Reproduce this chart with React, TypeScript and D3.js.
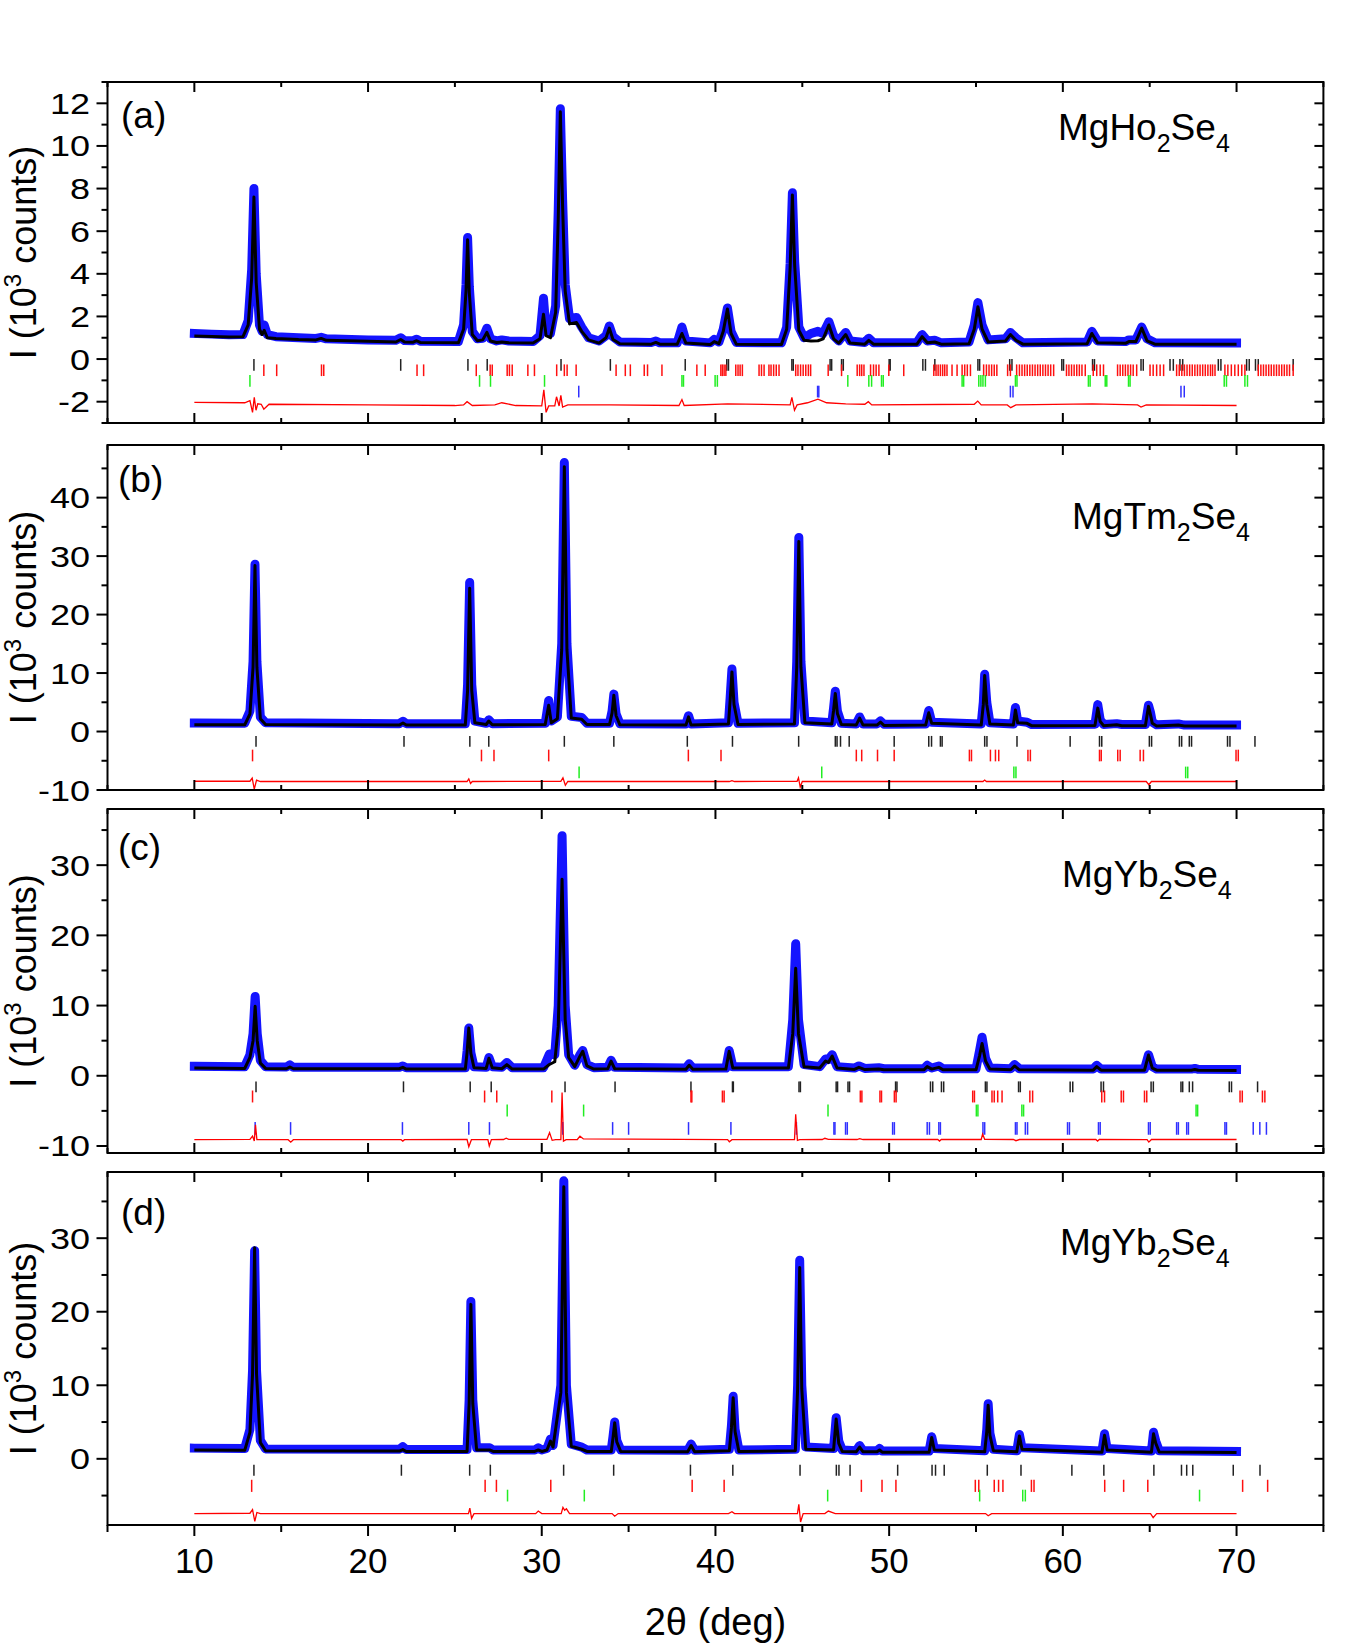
import React from "react";
import * as d3 from "d3";

const FONT = "'Liberation Sans', Arial, Helvetica, sans-serif";
const W = 1350;
const H = 1650;

// 2θ axis
const X_DOMAIN: [number, number] = [5, 75];
const X_TICK_LABELS = [10, 20, 30, 40, 50, 60, 70];

type Row = [number, number, number]; // [2θ, I_obs, I_calc] (10^3 counts)
type DRow = [number, number]; // [2θ, I_obs - I_calc + offset]

// ---------------- Panel (a) MgHo2Se4 ----------------
const patternA: Row[] = [
  [10.0, 1.2, 1.08], [11.0, 1.17, 1.06], [12.0, 1.14, 1.04], [12.8, 1.15, 1.05],
  [13.1, 1.8, 1.6], [13.3, 4.2, 3.8], [13.43, 8.0, 7.6], [13.56, 4.0, 3.6],
  [13.75, 1.6, 1.4], [13.9, 1.3, 1.15], [14.02, 1.6, 1.35], [14.2, 1.15, 1.0],
  [14.7, 1.05, 0.97], [16.0, 1.0, 0.92], [17.0, 0.97, 0.9], [17.3, 1.02, 0.97],
  [17.6, 0.95, 0.88], [20.0, 0.9, 0.84], [21.6, 0.88, 0.8], [21.88, 1.0, 0.92],
  [22.1, 0.87, 0.8], [22.6, 0.86, 0.79], [22.8, 0.93, 0.86], [23.0, 0.84, 0.78],
  [25.2, 0.82, 0.76], [25.5, 1.6, 1.4], [25.64, 3.5, 3.2], [25.73, 5.7, 5.6],
  [25.83, 3.4, 3.1], [26.0, 1.3, 1.15], [26.3, 0.95, 0.86], [26.6, 0.98, 0.9],
  [26.84, 1.45, 1.25], [27.05, 0.95, 0.85], [27.4, 0.85, 0.78], [27.7, 0.9, 0.8],
  [28.1, 0.85, 0.77], [29.5, 0.82, 0.75], [29.9, 1.1, 0.95], [30.1, 2.85, 2.1],
  [30.25, 1.3, 1.1], [30.5, 1.2, 1.0], [30.8, 2.5, 2.2], [30.95, 7.0, 6.6],
  [31.07, 11.75, 11.6], [31.2, 7.5, 7.2], [31.35, 3.5, 3.2], [31.6, 1.9, 1.65],
  [32.0, 1.95, 1.72], [32.3, 1.5, 1.3], [32.7, 1.0, 0.9], [33.3, 0.85, 0.75],
  [33.7, 1.1, 1.0], [33.89, 1.55, 1.45], [34.1, 1.05, 0.92], [34.5, 0.8, 0.72],
  [36.3, 0.78, 0.7], [36.57, 0.85, 0.78], [36.8, 0.76, 0.7], [37.8, 0.76, 0.7],
  [38.07, 1.5, 1.2], [38.3, 0.85, 0.75], [39.7, 0.76, 0.68], [39.93, 0.92, 0.82],
  [40.2, 0.8, 0.72], [40.45, 1.4, 1.3], [40.69, 2.4, 2.35], [40.9, 1.3, 1.2],
  [41.2, 0.78, 0.7], [43.8, 0.76, 0.68], [44.1, 1.5, 1.4], [44.3, 4.5, 4.3],
  [44.43, 7.8, 7.7], [44.56, 4.6, 4.4], [44.8, 1.5, 1.35], [45.1, 1.0, 0.88],
  [45.5, 1.2, 0.85], [45.9, 1.3, 0.86], [46.2, 1.2, 0.95], [46.53, 1.75, 1.6],
  [46.8, 1.1, 0.95], [47.1, 0.85, 0.75], [47.5, 1.25, 1.15], [47.75, 0.85, 0.75],
  [48.6, 0.78, 0.7], [48.83, 0.98, 0.88], [49.1, 0.77, 0.7], [51.6, 0.78, 0.7],
  [51.9, 1.15, 1.05], [52.2, 0.85, 0.77], [52.62, 0.88, 0.8], [53.0, 0.76, 0.7],
  [54.6, 0.8, 0.72], [54.9, 1.6, 1.4], [55.11, 2.65, 2.45], [55.35, 1.6, 1.4],
  [55.7, 0.9, 0.8], [56.7, 0.95, 0.85], [56.98, 1.25, 1.15], [57.3, 1.0, 0.88],
  [57.7, 0.76, 0.7], [61.4, 0.8, 0.72], [61.67, 1.3, 1.2], [62.0, 0.85, 0.76],
  [63.6, 0.82, 0.74], [63.8, 0.9, 0.82], [64.2, 0.9, 0.82], [64.54, 1.5, 1.45],
  [64.85, 0.95, 0.85], [65.3, 0.76, 0.7], [70.0, 0.75, 0.7],
];
const diffA: DRow[] = [
  [10.0, -2.03], [12.9, -2.05], [13.2, -1.95], [13.35, -2.5], [13.45, -1.8], [13.55, -2.4],
  [13.65, -2.1], [13.85, -2.12], [14.0, -2.35], [14.3, -2.12], [20, -2.15], [25, -2.18],
  [25.5, -2.15], [25.7, -2.0], [26.0, -2.18], [27.3, -2.15], [27.7, -2.05], [28.5, -2.18],
  [30.0, -2.2], [30.12, -1.44], [30.25, -2.5], [30.4, -2.2], [30.75, -2.2], [30.85, -1.77],
  [31.0, -2.2], [31.1, -1.7], [31.2, -2.25], [31.5, -2.15], [33.9, -2.15], [37.9, -2.18],
  [38.07, -1.9], [38.2, -2.18], [40.7, -2.1], [44.3, -2.15], [44.4, -1.8], [44.55, -2.4],
  [44.7, -2.15], [45.3, -2.05], [45.9, -1.88], [46.4, -2.05], [47.5, -2.1], [48.6, -2.12],
  [48.8, -2.0], [49.0, -2.15], [54.9, -2.12], [55.1, -1.97], [55.3, -2.15], [56.8, -2.15],
  [57.0, -2.28], [57.3, -2.15], [61.7, -2.1], [64.3, -2.15], [64.5, -2.25], [64.8, -2.15],
  [70.0, -2.18],
];
const braggA_main = [13.43, 21.88, 25.75, 26.86, 31.11, 33.95, 38.26, 40.65, 40.75, 44.4, 44.48,
  46.6, 46.69, 47.26, 47.36, 50.0, 50.06, 51.94, 52.09, 52.63, 55.11, 55.21, 56.94, 57.07,
  59.94, 60.04, 61.71, 61.82, 64.5, 64.63, 66.17, 66.36, 66.74, 66.9, 68.95, 69.1, 70.58,
  70.73, 71.09, 71.25, 73.26];
const braggA_red = [14.0, 14.74, 17.32, 17.45, 22.82, 23.2, 26.23, 27.03, 27.15, 28.01, 28.14,
  28.3, 29.2, 29.58, 30.86, 31.3, 31.46, 31.98, 34.28, 34.81, 35.1, 35.9, 36.09, 36.92, 38.93,
  39.41, 40.31, 40.4, 40.5, 40.6, 41.17, 41.3, 41.42, 41.55, 42.51, 42.65, 42.8, 43.08, 43.2,
  43.35, 43.5, 43.66, 44.62, 44.75, 44.9, 45.05, 45.2, 45.35, 45.48, 46.49, 47.26, 48.16, 48.3,
  48.42, 48.55, 48.93, 49.1, 49.25, 49.41, 49.98, 50.84, 52.57, 52.7, 52.82, 52.95, 53.08, 53.2,
  53.33, 53.62, 53.91, 54.2, 54.35, 54.5, 54.68, 55.44, 55.6, 55.75, 55.9, 56.05, 56.2, 56.82,
  56.98, 57.34, 57.5, 57.65, 57.8, 57.95, 58.1, 58.25, 58.4, 58.55, 58.7, 58.85, 59.0, 59.15,
  59.3, 59.47, 60.21, 60.35, 60.5, 60.65, 60.8, 60.95, 61.1, 61.29, 61.75, 61.95, 62.15, 62.34,
  63.15, 63.3, 63.45, 63.6, 63.75, 63.9, 64.05, 64.25, 65.02, 65.2, 65.4, 65.6, 65.8, 66.55,
  66.7, 66.85, 67.0, 67.15, 67.3, 67.45, 67.6, 67.75, 67.9, 68.05, 68.2, 68.35, 68.5, 68.62,
  68.76, 69.33, 69.5, 69.7, 69.9, 70.1, 70.3, 70.48, 71.25, 71.4, 71.55, 71.7, 71.85, 72.0,
  72.15, 72.3, 72.45, 72.6, 72.75, 72.9, 73.05, 73.26];
const braggA_green = [13.2, 26.42, 27.05, 30.16, 38.07, 38.16, 39.98, 40.11, 47.62, 48.83, 48.99,
  49.56, 49.66, 54.2, 54.29, 55.16, 55.28, 55.4, 55.54, 57.27, 57.36, 61.47, 61.57, 62.44,
  62.53, 63.78, 63.87, 69.29, 69.42, 70.48, 70.63];
const braggA_blue = [32.13, 45.88, 45.95, 56.98, 57.13, 66.8, 66.99];

// ---------------- Panel (b) MgTm2Se4 ----------------
const patternB: Row[] = [
  [10.0, 1.45, 1.15], [12.9, 1.4, 1.15], [13.2, 3.5, 3.0], [13.38, 12, 11], [13.49, 28.6, 28.4],
  [13.6, 12, 11], [13.8, 2.5, 2.2], [14.1, 1.5, 1.2], [21.8, 1.35, 1.1], [22.01, 1.75, 1.45],
  [22.2, 1.35, 1.1], [25.6, 1.35, 1.1], [25.73, 8, 7], [25.85, 25.5, 24.5], [25.97, 8, 7],
  [26.15, 1.8, 1.5], [26.8, 1.4, 1.2], [26.95, 2.0, 1.8], [27.15, 1.35, 1.15], [30.2, 1.4, 1.2],
  [30.4, 5.3, 4.5], [30.55, 1.8, 1.5], [30.9, 2.5, 2.2], [31.15, 15, 14], [31.3, 46.0, 45.3],
  [31.45, 15, 14], [31.7, 2.6, 2.3], [32.3, 2.4, 2.1], [32.6, 1.4, 1.2], [33.9, 1.4, 1.2],
  [34.05, 3.5, 3.2], [34.15, 6.4, 6.2], [34.28, 3, 2.7], [34.5, 1.35, 1.15], [38.3, 1.3, 1.1],
  [38.45, 2.7, 2.5], [38.6, 1.3, 1.1], [40.75, 1.5, 1.3], [40.85, 6, 5.5], [40.95, 10.7, 10.2],
  [41.07, 5, 4.6], [41.3, 1.4, 1.2], [44.55, 1.5, 1.3], [44.68, 12, 11], [44.8, 33.2, 32.5],
  [44.92, 12, 11], [45.15, 1.8, 1.5], [46.7, 1.5, 1.3], [46.8, 4, 3.6], [46.9, 6.9, 6.5],
  [47.02, 3.5, 3.1], [47.25, 1.4, 1.2], [48.1, 1.3, 1.1], [48.3, 2.5, 2.3], [48.5, 1.3, 1.1],
  [49.3, 1.3, 1.1], [49.5, 1.8, 1.6], [49.7, 1.25, 1.05], [52.1, 1.3, 1.1], [52.28, 3.6, 3.2],
  [52.45, 1.6, 1.4], [55.3, 1.3, 1.1], [55.42, 5, 4.6], [55.5, 9.8, 9.6], [55.62, 5, 4.6],
  [55.8, 1.5, 1.3], [57.15, 1.3, 1.1], [57.27, 4.1, 3.7], [57.4, 1.8, 1.5], [57.94, 1.6, 1.4],
  [58.2, 1.2, 1.0], [61.85, 1.25, 1.05], [62.01, 4.6, 4.0], [62.15, 2.0, 1.7], [62.35, 1.2, 1.0],
  [63.1, 1.35, 1.15], [63.4, 1.2, 1.0], [64.75, 1.2, 1.0], [64.93, 4.5, 4.3], [65.05, 3.2, 2.8],
  [65.15, 1.6, 1.4], [65.4, 1.15, 0.95], [66.65, 1.3, 1.1], [67.0, 1.1, 0.95], [70.0, 1.1, 0.95],
];
const diffB: DRow[] = [
  [10, -8.5], [13.2, -8.5], [13.33, -7.95], [13.45, -9.85], [13.58, -8.3], [13.8, -8.55],
  [25.7, -8.55], [25.8, -8.1], [25.9, -8.9], [26.0, -8.55], [31.1, -8.5], [31.22, -7.9],
  [31.36, -9.2], [31.5, -8.55], [40.8, -8.55], [40.95, -8.4], [41.1, -8.55], [44.7, -8.5],
  [44.78, -7.9], [44.88, -9.5], [45.0, -8.55], [55.4, -8.55], [55.5, -8.3], [55.6, -8.55],
  [64.8, -8.55], [64.95, -9.1], [65.1, -8.55], [70, -8.55],
];
const braggB_main = [13.55, 22.07, 25.86, 26.95, 31.3, 34.15, 38.38, 40.98, 44.79, 46.9, 47.0,
  47.2, 47.7, 50.29, 52.28, 52.44, 52.95, 53.05, 55.5, 55.63, 57.36, 60.42, 62.11, 62.24, 64.98,
  65.11, 66.71, 66.84, 67.28, 67.41, 69.48, 69.62, 71.06];
const braggB_red = [13.35, 26.53, 27.25, 30.4, 38.44, 40.32, 48.11, 48.42, 49.33, 50.29, 54.62,
  54.74, 55.83, 56.12, 56.31, 57.99, 58.13, 62.11, 62.21, 63.16, 63.3, 64.45, 64.64, 69.97, 70.1];
const braggB_green = [32.15, 46.12, 57.18, 57.3, 67.07, 67.19];

// ---------------- Panel (c) MgYb2Se4 ----------------
const patternC: Row[] = [
  [10, 1.35, 1.1], [12.9, 1.3, 1.05], [13.2, 3, 2.6], [13.38, 6, 5], [13.5, 11.3, 9.9],
  [13.62, 6, 5], [13.8, 2.2, 1.8], [14.1, 1.3, 1.05], [15.3, 1.25, 1.0], [15.5, 1.55, 1.25],
  [15.7, 1.2, 1.0], [21.8, 1.2, 1.0], [22.0, 1.4, 1.2], [22.2, 1.15, 0.95], [25.6, 1.15, 0.95],
  [25.7, 3.5, 3.3], [25.8, 6.8, 6.8], [25.92, 3.3, 3.2], [26.1, 1.3, 1.15], [26.8, 1.2, 1.05],
  [26.96, 2.6, 2.5], [27.15, 1.3, 1.15], [27.7, 1.2, 1.0], [27.99, 1.9, 1.6], [28.3, 1.15, 0.95],
  [30.1, 1.15, 0.95], [30.44, 3.1, 1.6], [30.75, 3.0, 2.0], [30.95, 10, 7], [31.17, 34.2, 28.0],
  [31.35, 10, 8], [31.55, 3, 2.6], [31.9, 1.5, 1.3], [32.2, 3.0, 2.8], [32.36, 3.6, 3.5],
  [32.6, 1.6, 1.4], [33.0, 1.15, 0.95], [33.8, 1.2, 1.0], [33.99, 2.2, 2.1], [34.2, 1.2, 1.0],
  [38.3, 1.1, 0.92], [38.49, 1.7, 1.5], [38.7, 1.1, 0.92], [40.6, 1.1, 0.95], [40.79, 3.6, 3.5],
  [41.0, 1.3, 1.1], [44.2, 1.3, 1.1], [44.45, 8, 6], [44.62, 18.8, 15.3], [44.78, 8, 6],
  [45.1, 1.6, 1.3], [46.0, 1.3, 1.1], [46.34, 2.4, 2.1], [46.5, 2.3, 1.9], [46.72, 3.0, 2.8],
  [47.0, 1.3, 1.1], [48.0, 1.1, 0.9], [48.26, 1.4, 1.2], [48.6, 1.05, 0.88], [49.4, 1.15, 0.95],
  [49.7, 1.0, 0.85], [52.0, 1.0, 0.85], [52.19, 1.5, 1.3], [52.45, 1.1, 0.95], [52.86, 1.4, 1.2],
  [53.1, 1.0, 0.85], [55.0, 1.0, 0.85], [55.2, 3.5, 2.8], [55.35, 5.5, 4.6], [55.55, 2.5, 2.1],
  [55.8, 1.1, 0.95], [57.0, 1.0, 0.85], [57.22, 1.6, 1.4], [57.5, 1.0, 0.85], [61.75, 0.95, 0.8],
  [61.95, 1.5, 1.3], [62.2, 0.95, 0.8], [64.7, 0.95, 0.8], [64.93, 3.0, 2.95], [65.15, 1.3, 1.1],
  [65.4, 0.95, 0.8], [67.4, 0.95, 0.8], [67.6, 1.05, 0.9], [67.8, 0.92, 0.78], [70.0, 0.9, 0.75],
];
const diffC: DRow[] = [
  [10, -9.1], [13.2, -9.05], [13.35, -8.6], [13.45, -9.3], [13.52, -7.0], [13.6, -9.1],
  [15.4, -9.1], [15.55, -9.45], [15.7, -9.1], [21.9, -9.1], [22.0, -9.3], [22.1, -9.1],
  [25.7, -9.08], [25.8, -10.1], [25.95, -9.1], [26.9, -9.1], [26.98, -10.0], [27.1, -9.1],
  [27.8, -9.08], [27.95, -8.9], [28.1, -9.05], [30.3, -9.05], [30.45, -8.1], [30.6, -9.2],
  [30.8, -9.1], [31.1, -9.1], [31.17, -2.4], [31.25, -9.3], [31.4, -9.1], [32.05, -9.08],
  [32.2, -8.6], [32.4, -9.0], [40.7, -9.1], [40.8, -9.4], [40.95, -9.1], [44.55, -9.1],
  [44.62, -5.5], [44.72, -9.2], [44.85, -9.1], [46.15, -9.08], [46.3, -8.9], [46.5, -9.05],
  [48.15, -9.08], [48.3, -8.95], [48.5, -9.08], [52.8, -9.08], [52.9, -9.3], [53.0, -9.08],
  [55.3, -9.08], [55.38, -8.3], [55.5, -9.05], [57.15, -9.08], [57.3, -9.25], [57.5, -9.08],
  [61.9, -9.08], [62.0, -9.3], [62.1, -9.08], [64.85, -9.1], [64.95, -9.45], [65.1, -9.08],
  [70, -9.08],
];
const braggC_main = [13.55, 22.04, 25.88, 27.09, 31.34, 34.22, 38.59, 40.98, 41.03, 44.81, 44.89,
  46.95, 47.03, 47.63, 47.72, 50.37, 50.45, 52.38, 52.51, 53.01, 53.14, 55.54, 55.63, 57.45,
  57.55, 60.42, 60.57, 62.2, 62.34, 65.08, 65.21, 66.8, 66.9, 67.28, 67.47, 69.58, 69.71, 71.21];
const braggC_red = [13.35, 26.71, 27.41, 30.58, 38.59, 38.64, 40.4, 40.5, 48.34, 48.43, 49.47,
  49.56, 50.3, 50.4, 54.81, 54.91, 55.92, 56.05, 56.25, 56.5, 58.1, 58.26, 62.24, 62.4, 63.36,
  63.49, 64.7, 64.83, 70.2, 70.33, 71.49, 71.63];
const braggC_green = [28.01, 32.41, 46.48, 55.02, 55.11, 57.64, 57.74, 67.67, 67.76];
const braggC_blue = [13.5, 15.54, 21.98, 25.8, 26.99, 31.21, 34.08, 35.0, 38.45, 40.89, 44.66,
  46.82, 46.88, 47.49, 47.59, 50.2, 50.3, 52.19, 52.32, 52.86, 52.95, 55.4, 55.5, 57.27, 57.36,
  57.84, 57.97, 60.27, 60.38, 62.05, 62.15, 64.93, 65.03, 66.55, 66.65, 67.13, 67.23, 69.33,
  69.42, 70.96, 71.34, 71.72];

// ---------------- Panel (d) MgYb2Se4 ----------------
const patternD: Row[] = [
  [10, 1.45, 1.2], [12.9, 1.4, 1.15], [13.2, 4, 3.6], [13.35, 12, 11.5], [13.47, 28.3, 28.7],
  [13.58, 12, 11.5], [13.8, 2.5, 2.2], [14.1, 1.35, 1.1], [21.8, 1.3, 1.05], [22.0, 1.65, 1.25],
  [22.2, 1.25, 1.0], [25.7, 1.25, 1.0], [25.82, 8, 7.5], [25.92, 21.4, 21.0], [26.03, 8, 7.5],
  [26.25, 1.5, 1.2], [27.0, 1.5, 1.2], [27.2, 1.2, 1.0], [29.6, 1.2, 1.0], [29.8, 1.5, 1.2],
  [30.0, 1.2, 1.0], [30.3, 1.4, 1.2], [30.5, 2.7, 2.4], [30.65, 1.8, 1.6], [31.1, 10, 9],
  [31.27, 37.8, 37], [31.42, 10, 9], [31.7, 2.0, 1.7], [32.3, 1.6, 1.3], [32.6, 1.2, 1.0],
  [34.0, 1.2, 1.0], [34.1, 3, 2.8], [34.2, 5.0, 4.9], [34.32, 2.5, 2.3], [34.55, 1.2, 1.0],
  [38.4, 1.15, 0.95], [38.6, 2.0, 1.8], [38.8, 1.15, 0.95], [40.8, 1.3, 1.1], [40.92, 4.5, 4.2],
  [41.02, 8.5, 8.3], [41.13, 4, 3.7], [41.35, 1.2, 1.0], [44.6, 1.3, 1.1], [44.73, 10, 9.5],
  [44.85, 27.0, 26.0], [44.97, 10, 9.5], [45.2, 1.6, 1.3], [46.8, 1.4, 1.2], [46.95, 5.6, 5.4],
  [47.1, 2.4, 2.1], [47.3, 1.2, 1.0], [48.1, 1.1, 0.95], [48.3, 1.8, 1.6], [48.5, 1.1, 0.95],
  [49.3, 1.1, 0.95], [49.45, 1.4, 1.2], [49.6, 1.05, 0.9], [52.3, 1.05, 0.9], [52.45, 3.0, 2.9],
  [52.6, 1.4, 1.2], [55.5, 1.1, 0.95], [55.62, 4, 3.7], [55.7, 7.5, 7.3], [55.8, 3.5, 3.2],
  [56.0, 1.3, 1.1], [57.35, 1.1, 0.95], [57.5, 3.3, 3.1], [57.65, 1.5, 1.3], [62.25, 1.05, 0.9],
  [62.4, 3.4, 3.2], [62.55, 1.4, 1.2], [65.1, 1.05, 0.9], [65.22, 3.6, 3.4], [65.35, 2.4, 2.1],
  [65.55, 1.1, 0.92], [70, 1.0, 0.85],
];
const diffD: DRow[] = [
  [10, -7.45], [13.2, -7.4], [13.35, -6.9], [13.48, -8.5], [13.6, -7.3], [13.8, -7.45],
  [25.78, -7.45], [25.86, -6.7], [25.96, -8.1], [26.1, -7.45], [29.65, -7.45], [29.8, -7.1],
  [30.0, -7.45], [31.12, -7.45], [31.22, -6.6], [31.32, -7.0], [31.42, -6.8], [31.6, -7.45],
  [34.05, -7.45], [34.2, -7.8], [34.4, -7.45], [40.75, -7.45], [40.95, -7.2], [41.1, -7.45],
  [44.72, -7.45], [44.8, -6.2], [44.9, -8.6], [45.05, -7.45], [46.3, -7.45], [46.5, -7.1],
  [46.9, -7.45], [55.55, -7.45], [55.7, -7.75], [55.9, -7.45], [65.05, -7.45], [65.2, -8.0],
  [65.4, -7.45], [70, -7.45],
];
const braggD_main = [13.43, 21.92, 25.85, 27.04, 31.26, 34.14, 38.56, 41.0, 44.87, 46.96, 47.11,
  47.75, 50.49, 52.47, 52.67, 53.17, 55.65, 57.59, 60.52, 62.36, 65.24, 66.83, 67.13, 67.48,
  69.81, 71.35];
const braggD_red = [13.3, 26.74, 27.39, 30.52, 38.66, 40.5, 48.4, 49.59, 50.39, 54.96, 55.16,
  56.05, 56.3, 56.55, 58.19, 58.34, 62.41, 63.5, 64.89, 70.35, 71.79];
const braggD_green = [28.03, 32.45, 46.46, 55.21, 57.69, 57.84, 67.87];

// ---------------- layout ----------------
const X_RANGE: [number, number] = [107.5, 1323.4];

const COL_OBS = "#1414ff";
const COL_CALC = "#000000";
const COL_DIFF = "#ff0000";

type BraggRow = { color: string; span: [number, number]; pos: number[] };
type PanelSpec = {
  label: string;
  formula: [string, string, string, string];
  yDomain: [number, number];
  top: number;
  bottom: number;
  major: number;
  minor: number;
  pattern: Row[];
  diff: DRow[];
  bragg: BraggRow[];
  labelXY: [number, number];
  formulaXY: [number, number];
  bottomOut: boolean;
};

const panels: PanelSpec[] = [
  {
    label: "(a)", formula: ["MgHo", "2", "Se", "4"], yDomain: [-3, 13], top: 82, bottom: 423,
    major: 2, minor: 1, pattern: patternA, diff: diffA,
    bragg: [
      { color: "#222", span: [0, -0.55], pos: braggA_main },
      { color: "#ff1010", span: [-0.25, -0.8], pos: braggA_red },
      { color: "#22ee22", span: [-0.75, -1.3], pos: braggA_green },
      { color: "#3030ff", span: [-1.25, -1.8], pos: braggA_blue },
    ],
    labelXY: [121, 128], formulaXY: [1058, 140], bottomOut: false,
  },
  {
    label: "(b)", formula: ["MgTm", "2", "Se", "4"], yDomain: [-10, 49], top: 445, bottom: 790,
    major: 10, minor: 5, pattern: patternB, diff: diffB,
    bragg: [
      { color: "#222", span: [-0.75, -2.6], pos: braggB_main },
      { color: "#ff1010", span: [-3.1, -5.1], pos: braggB_red },
      { color: "#22ee22", span: [-6.0, -8.0], pos: braggB_green },
    ],
    labelXY: [118, 492], formulaXY: [1072, 529], bottomOut: false,
  },
  {
    label: "(c)", formula: ["MgYb", "2", "Se", "4"], yDomain: [-11, 38], top: 809, bottom: 1153,
    major: 10, minor: 5, pattern: patternC, diff: diffC,
    bragg: [
      { color: "#222", span: [-0.8, -2.35], pos: braggC_main },
      { color: "#ff1010", span: [-2.1, -3.8], pos: braggC_red },
      { color: "#22ee22", span: [-4.1, -5.8], pos: braggC_green },
      { color: "#3030ff", span: [-6.6, -8.4], pos: braggC_blue },
    ],
    labelXY: [118, 860], formulaXY: [1062, 887], bottomOut: false,
  },
  {
    label: "(d)", formula: ["MgYb", "2", "Se", "4"], yDomain: [-9, 39], top: 1172, bottom: 1525,
    major: 10, minor: 5, pattern: patternD, diff: diffD,
    bragg: [
      { color: "#222", span: [-0.8, -2.3], pos: braggD_main },
      { color: "#ff1010", span: [-2.85, -4.5], pos: braggD_red },
      { color: "#22ee22", span: [-4.2, -5.8], pos: braggD_green },
    ],
    labelXY: [121, 1225], formulaXY: [1060, 1255], bottomOut: true,
  },
];

const MAJ_OUT = 11;
const MIN_OUT = 6;
const MAJ_IN = 10;
const MIN_IN = 5;

function Panel({ p }: { p: PanelSpec }) {
  const x = d3.scaleLinear().domain(X_DOMAIN).range(X_RANGE);
  const y = d3.scaleLinear().domain(p.yDomain).range([p.bottom, p.top]);
  const obsLine = d3.line<Row>().x((d) => x(d[0])).y((d) => y(d[1]));
  const calcLine = d3.line<Row>().x((d) => x(d[0])).y((d) => y(d[2]));
  const diffLine = d3.line<DRow>().x((d) => x(d[0])).y((d) => y(d[1]));

  const xTicks = d3.range(X_DOMAIN[0], X_DOMAIN[1] + 0.001, 5);
  const isXMajor = (v: number) => Math.abs(v / 10 - Math.round(v / 10)) < 1e-6;

  const yStart = Math.ceil(p.yDomain[0] / p.minor) * p.minor;
  const yTicks = d3.range(yStart, p.yDomain[1] + 0.001, p.minor);
  const isYMajor = (v: number) => Math.abs(v / p.major - Math.round(v / p.major)) < 1e-6;

  const [x0, x1] = X_RANGE;
  const cy = (p.top + p.bottom) / 2;

  return (
    <g>
      {/* Bragg ticks */}
      {p.bragg.map((r, i) => (
        <g key={"b" + i} stroke={r.color} strokeWidth={1.5}>
          {r.pos.map((v, j) => (
            <line key={j} x1={x(v)} x2={x(v)} y1={y(r.span[0])} y2={y(r.span[1])} />
          ))}
        </g>
      ))}
      {/* difference curve */}
      <path d={diffLine(p.diff) || ""} fill="none" stroke={COL_DIFF} strokeWidth={1.3} />
      {/* observed */}
      <path d={obsLine(p.pattern) || ""} fill="none" stroke={COL_OBS} strokeWidth={9}
        strokeLinejoin="round" strokeLinecap="square" />
      {/* calculated */}
      <path d={calcLine(p.pattern) || ""} fill="none" stroke={COL_CALC} strokeWidth={3}
        strokeLinejoin="round" />

      {/* frame */}
      <rect x={x0} y={p.top} width={x1 - x0} height={p.bottom - p.top} fill="none"
        stroke="#000" strokeWidth={2} />

      {/* x ticks top (inward) and bottom */}
      {xTicks.map((v) => {
        const len = isXMajor(v) ? MAJ_IN : MIN_IN;
        const blen = isXMajor(v) ? MAJ_OUT : MIN_OUT + 1;
        return (
          <g key={"xt" + v} stroke="#000" strokeWidth={2}>
            <line x1={x(v)} x2={x(v)} y1={p.top} y2={p.top + len} />
            {p.bottomOut ? (
              <line x1={x(v)} x2={x(v)} y1={p.bottom} y2={p.bottom + blen} />
            ) : (
              <line x1={x(v)} x2={x(v)} y1={p.bottom} y2={p.bottom - len} />
            )}
          </g>
        );
      })}

      {/* y ticks: left outward, right inward */}
      {yTicks.map((v) => {
        const maj = isYMajor(v);
        return (
          <g key={"yt" + v} stroke="#000" strokeWidth={2}>
            <line x1={x0} x2={x0 - (maj ? MAJ_OUT : MIN_OUT)} y1={y(v)} y2={y(v)} />
            <line x1={x1} x2={x1 - (maj ? MAJ_IN - 1 : MIN_IN)} y1={y(v)} y2={y(v)} />
          </g>
        );
      })}
      {yTicks.filter(isYMajor).map((v) => (
        <text key={"yl" + v} transform={`translate(90,${y(v) + 10.5}) scale(1.2,1)`}
          textAnchor="end" fontSize={30} fontFamily={FONT} fill="#000">
          {v}
        </text>
      ))}

      {/* y axis title */}
      <text transform={`translate(36,${cy}) rotate(-90)`} textAnchor="middle"
        fontSize={36} fontFamily={FONT} fill="#000">
        I (10<tspan fontSize={24} dy={-15}>3</tspan>
        <tspan dy={15}> counts)</tspan>
      </text>

      {/* panel label */}
      <text x={p.labelXY[0]} y={p.labelXY[1]} fontSize={37} fontFamily={FONT} fill="#000">
        {p.label}
      </text>
      {/* compound */}
      <text x={p.formulaXY[0]} y={p.formulaXY[1]} fontSize={37} fontFamily={FONT} fill="#000">
        {p.formula[0]}
        <tspan fontSize={25} dy={12}>{p.formula[1]}</tspan>
        <tspan dy={-12}>{p.formula[2]}</tspan>
        <tspan fontSize={25} dy={12}>{p.formula[3]}</tspan>
      </text>
    </g>
  );
}

export default function App() {
  const x = d3.scaleLinear().domain(X_DOMAIN).range(X_RANGE);
  const last = panels[panels.length - 1];
  return (
    <svg width={W} height={H} viewBox={`0 0 ${W} ${H}`}
      style={{ position: "absolute", left: 0, top: 0, background: "#fff" }}>
      <rect x={0} y={0} width={W} height={H} fill="#fff" />
      {panels.map((p, i) => (
        <Panel key={i} p={p} />
      ))}
      {X_TICK_LABELS.map((v) => (
        <text key={v} x={x(v)} y={last.bottom + 48} textAnchor="middle" fontSize={35}
          fontFamily={FONT} fill="#000">
          {v}
        </text>
      ))}
      <text x={(X_RANGE[0] + X_RANGE[1]) / 2} y={1635} textAnchor="middle" fontSize={38}
        fontFamily={FONT} fill="#000">
        2θ (deg)
      </text>
    </svg>
  );
}
